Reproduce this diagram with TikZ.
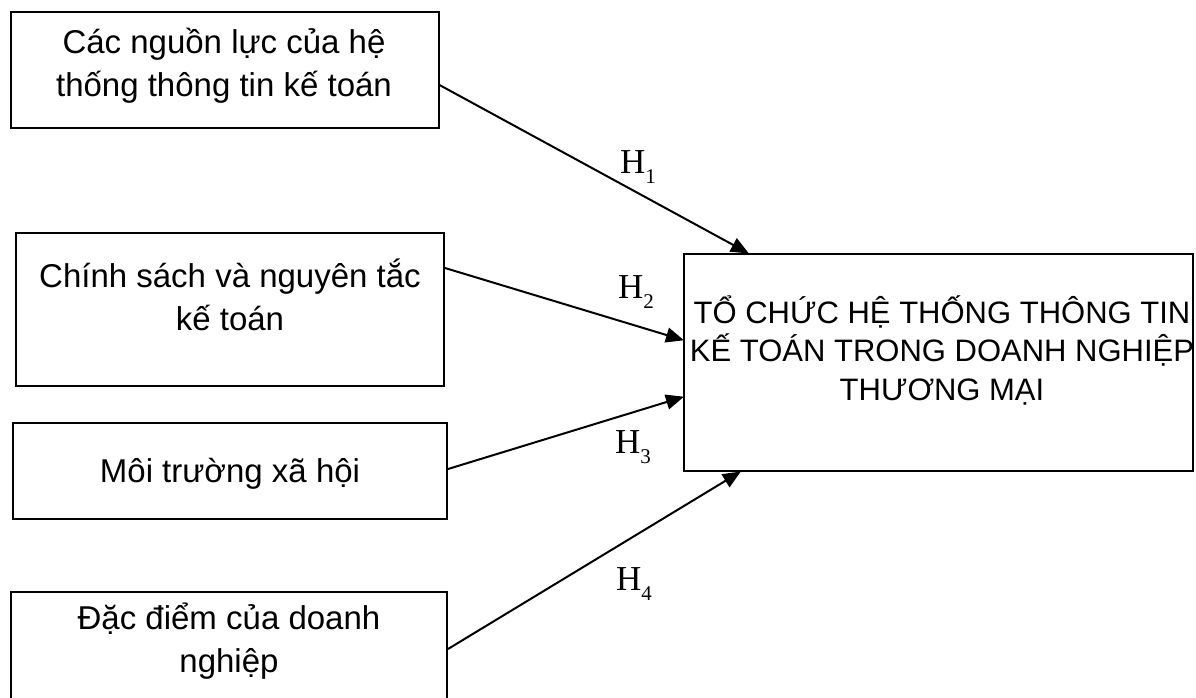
\documentclass[tikz,border=0pt]{standalone}
\usepackage{fontspec}
\setmainfont{Liberation Sans}
\newfontfamily\hfont{Liberation Serif}
\usetikzlibrary{arrows.meta}
\tikzset{
  box/.style={draw, line width=2pt, rectangle, inner sep=0pt},
  boxtext/.style={align=center, inner sep=0pt, anchor=base, font=\fontsize{33}{43}\selectfont},
  bigtext/.style={align=center, inner sep=0pt, anchor=base, font=\fontsize{31}{38.5}\selectfont},
  hlabel/.style={inner sep=0pt, anchor=base west, font=\hfont\fontsize{35}{35}\selectfont},
  link/.style={line width=2pt, -{Triangle[length=18pt,width=15pt]}, shorten >=-1pt}
}
\newcommand{\hsub}[1]{H\raisebox{-0.3em}{\fontsize{21}{21}\selectfont #1}}
\begin{document}
\begin{tikzpicture}[x=1pt,y=-1pt]
\clip (0,0) rectangle (1196,698);
\fill[white] (0,0) rectangle (1196,698);
% boxes
\node[box, minimum width=428pt, minimum height=116pt] (b1) at (224.5,70) {};
\node[box, minimum width=428pt, minimum height=153pt] (b2) at (230,309.5) {};
\node[box, minimum width=434pt, minimum height=96pt] (b3) at (230,471) {};
\node[box, minimum width=436pt, minimum height=140pt] (b4) at (229,662) {};
\node[box, minimum width=509pt, minimum height=217pt] (t) at (938.5,362.5) {};
% texts (anchor = baseline of the last line)
\node[boxtext] (l1) at (224,97) {Các nguồn lực của hệ\\thống thông tin kế toán};
\node[boxtext] (l2) at (230,330) {Chính sách và nguyên tắc\\kế toán};
\node[boxtext] (l3) at (230,482) {Môi trường xã hội};
\node[boxtext] (l4) at (229,672) {Đặc điểm của doanh\\nghiệp};
\node[bigtext] (lt) at (942,400) {TỔ CHỨC HỆ THỐNG THÔNG TIN\\KẾ TOÁN TRONG DOANH NGHIỆP\\THƯƠNG MẠI};
% connectors
\coordinate (s1) at (b1.east |- 0,85);
\coordinate (s2) at (b2.east |- 0,268);
\coordinate (s3) at (b3.east |- 0,469);
\coordinate (s4) at (b4.east |- 0,649);
\coordinate (e1) at (t.north -| 748,0);
\coordinate (e2) at (t.west |- 0,340);
\coordinate (e3) at (t.west |- 0,397);
\coordinate (e4) at (t.south -| 740,0);
\draw[link] (s1) -- (e1);
\draw[link] (s2) -- (e2);
\draw[link] (s3) -- (e3);
\draw[link] (s4) -- (e4);
% labels
\node[hlabel] (h1) at (620,173) {\hsub{1}};
\node[hlabel] (h2) at (618,298) {\hsub{2}};
\node[hlabel] (h3) at (615,453) {\hsub{3}};
\node[hlabel] (h4) at (616,590) {\hsub{4}};
\end{tikzpicture}
\end{document}
